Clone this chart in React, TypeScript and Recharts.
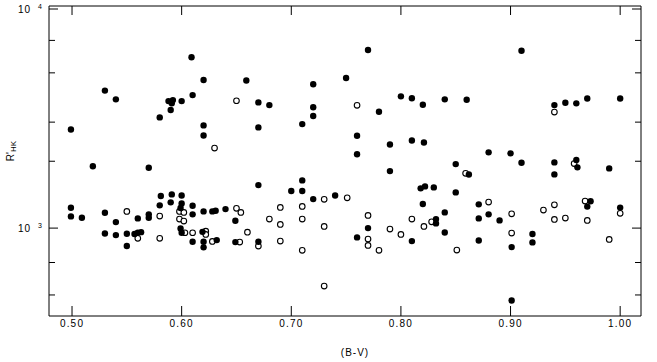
import React from 'react';
import { ScatterChart, Scatter, XAxis, YAxis } from 'recharts';

// (B-V) and R'HK for the filled symbols
const filledBV = [
  0.609, 0.620, 0.659, 0.530, 0.540, 0.588, 0.592, 0.591, 0.600, 0.610, 0.590, 0.580, 0.620, 0.620, 0.499,
  0.519, 0.570, 0.581, 0.591, 0.600, 0.580, 0.590, 0.600, 0.599, 0.610, 0.499, 0.499, 0.509, 0.530, 0.540,
  0.560, 0.570, 0.570, 0.610, 0.620, 0.628, 0.631, 0.640, 0.649, 0.530, 0.540, 0.550, 0.557, 0.560, 0.563,
  0.550, 0.599, 0.600, 0.619, 0.610, 0.620, 0.620, 0.632, 0.649, 0.770, 0.750, 0.720, 0.670, 0.680, 0.720,
  0.720, 0.710, 0.670, 0.800, 0.810, 0.820, 0.840, 0.780, 0.760, 0.790, 0.810, 0.821, 0.760, 0.790, 0.670,
  0.710, 0.700, 0.710, 0.720, 0.740, 0.818, 0.822, 0.830, 0.820, 0.832, 0.832, 0.840, 0.840, 0.770, 0.670,
  0.760, 0.810, 0.910, 0.860, 0.940, 0.950, 0.960, 0.970, 1.000, 0.880, 0.900, 0.850, 0.910, 0.940, 0.960,
  0.961, 0.990, 0.862, 0.940, 0.850, 0.871, 0.871, 0.880, 0.890, 0.973, 0.970, 1.000, 0.871, 0.920, 0.920,
  0.901, 0.901,
];
const filledRHK = [
  5880, 4640, 4620, 4160, 3800, 3730, 3770, 3650, 3730, 3970, 3400, 3150, 2900, 2610, 2780,
  1900, 1870, 1394, 1418, 1403, 1266, 1306, 1292, 1231, 1260, 1234, 1129, 1113, 1172, 1064,
  1106, 1153, 1113, 1153, 1189, 1189, 1197, 1218, 1079, 946, 930, 943, 940, 953, 959,
  830, 997, 953, 962, 868, 868, 819, 883, 865, 6340, 4740, 4440, 3680, 3580, 3500,
  3195, 2940, 2840, 3920, 3840, 3590, 3800, 3340, 2605, 2380, 2480, 2430, 2150, 1806, 1562,
  1640, 1468, 1468, 1351, 1403, 1510, 1541, 1525, 1283, 1098, 1050, 1177, 956, 1000, 868,
  908, 874, 6290, 3784, 3580, 3667, 3645, 3832, 3832, 2193, 2170, 1942, 1968, 1976, 2025,
  1877, 1857, 1742, 1745, 1448, 1279, 1106, 1153, 1083, 1320, 1250, 1237, 880, 940, 862,
  821, 472,
];

// (B-V) and R'HK for the open symbols
const openBV = [
  0.650, 0.630, 0.550, 0.580, 0.598, 0.602, 0.598, 0.602, 0.650, 0.654, 0.560, 0.580, 0.603, 0.610,
  0.622, 0.622, 0.628, 0.653, 0.660, 0.690, 0.710, 0.680, 0.690, 0.710, 0.730, 0.751, 0.730, 0.770,
  0.790, 0.800, 0.810, 0.821, 0.828, 0.760, 0.670, 0.690, 0.710, 0.770, 0.770, 0.780, 0.730, 0.940,
  0.958, 0.859, 0.880, 0.901, 0.930, 0.940, 0.940, 0.950, 0.968, 0.970, 1.000, 0.901, 0.851, 0.990,
];
const openRHK = [
  3745, 2293, 1189, 1133, 1189, 1177, 1098, 1075, 1227, 1177, 899, 899, 953, 953,
  969, 937, 871, 865, 959, 1239, 1252, 1098, 1039, 1098, 1018, 1369, 1347, 1141,
  990, 937, 1098, 1018, 1067, 3570, 830, 874, 794, 892, 836, 794, 548, 3330,
  1952, 1764, 1310, 1160, 1205, 1273, 1094, 1109, 1323, 1083, 1165, 950, 796, 889,
];

const xTicks = [0.5, 0.6, 0.7, 0.8, 0.9, 1.0];
const yTicks = [500, 600, 700, 800, 900, 1000, 2000, 3000, 4000, 5000, 6000, 7000, 8000, 9000, 10000];
const yMajor: Record<number, string> = { 1000: '3', 10000: '4' };

const filled = filledBV.map((bv, i) => ({ bv, rhk: filledRHK[i] }));
const open = openBV.map((bv, i) => ({ bv, rhk: openRHK[i] }));

const FONT = '"Liberation Sans", Arial, sans-serif';
const X_DOMAIN = [0.479, 1.019];
const Y_DOMAIN = [402, 10000];

const BottomTick = (p: any) => (
  <g>
    <line x1={p.x} x2={p.x} y1={p.y} y2={p.y - 10} stroke="#000" />
    <text x={p.x} y={p.y + 11} textAnchor="middle" fontSize={10} letterSpacing={1.2} fontFamily={FONT} fill="#000">
      {Number(p.payload.value).toFixed(2)}
    </text>
  </g>
);

const TopTick = (p: any) => <line x1={p.x} x2={p.x} y1={p.y} y2={p.y + 9} stroke="#000" />;

const LeftTick = (p: any) => {
  const sup = yMajor[p.payload.value];
  return (
    <g>
      <line x1={p.x} x2={p.x + (sup ? 9 : 6)} y1={p.y} y2={p.y} stroke="#000" />
      {sup && (
        <text fontFamily={FONT} fill="#000">
          <tspan x={18} y={p.y + 4} fontSize={10} letterSpacing={1}>10</tspan>
          <tspan x={38} y={p.y} fontSize={7}>{sup}</tspan>
        </text>
      )}
    </g>
  );
};

const RightTick = (p: any) => {
  const major = !!yMajor[p.payload.value];
  return <line x1={p.x} x2={p.x - (major ? 9 : 6)} y1={p.y} y2={p.y} stroke="#000" />;
};

const FilledDot = (p: any) => <circle cx={p.cx} cy={p.cy} r={3.2} fill="#000" />;
const OpenDot = (p: any) => <circle cx={p.cx} cy={p.cy} r={2.8} fill="#fff" stroke="#000" strokeWidth={1.1} />;

export default function App() {
  return (
    <div style={{ position: 'absolute', left: 0, top: 0, width: 657, height: 362, background: '#fff' }}>
      <ScatterChart width={657} height={362} margin={{ top: 0, right: 6, bottom: 0, left: 0 }}>
        <XAxis
          dataKey="bv" type="number" domain={X_DOMAIN} ticks={xTicks} allowDataOverflow stroke="#000"
          height={46} tickSize={0} tickMargin={0} tickLine={false} tick={<BottomTick />}
          axisLine={{ stroke: '#000' }}
        />
        <XAxis
          xAxisId="top" orientation="top" dataKey="bv" type="number" domain={X_DOMAIN} ticks={xTicks} stroke="#000"
          allowDataOverflow height={6} tickSize={0} tickMargin={0} tickLine={false} tick={<TopTick />}
          axisLine={{ stroke: '#000' }}
        />
        <YAxis
          dataKey="rhk" type="number" scale="log" domain={Y_DOMAIN} ticks={yTicks} allowDataOverflow stroke="#000"
          width={49} tickSize={0} tickMargin={0} tickLine={false} tick={<LeftTick />}
          axisLine={{ stroke: '#000' }}
        />
        <YAxis
          yAxisId="right" orientation="right" dataKey="rhk" type="number" scale="log" domain={Y_DOMAIN} stroke="#000"
          ticks={yTicks} allowDataOverflow width={10} tickSize={0} tickMargin={0} tickLine={false}
          tick={<RightTick />} axisLine={{ stroke: '#000' }}
        />
        <Scatter data={open} shape={<OpenDot />} isAnimationActive={false} />
        <Scatter data={filled} shape={<FilledDot />} isAnimationActive={false} />
        <text x={355} y={356} textAnchor="middle" fontSize={10} letterSpacing={1} fontFamily={FONT} fill="#000">
          (B-V)
        </text>
        <text transform="translate(14,151) rotate(-90)" textAnchor="middle" fontSize={10} fontFamily={FONT} fill="#000">
          R'<tspan fontSize={8} dy={2}>HK</tspan>
        </text>
      </ScatterChart>
    </div>
  );
}
